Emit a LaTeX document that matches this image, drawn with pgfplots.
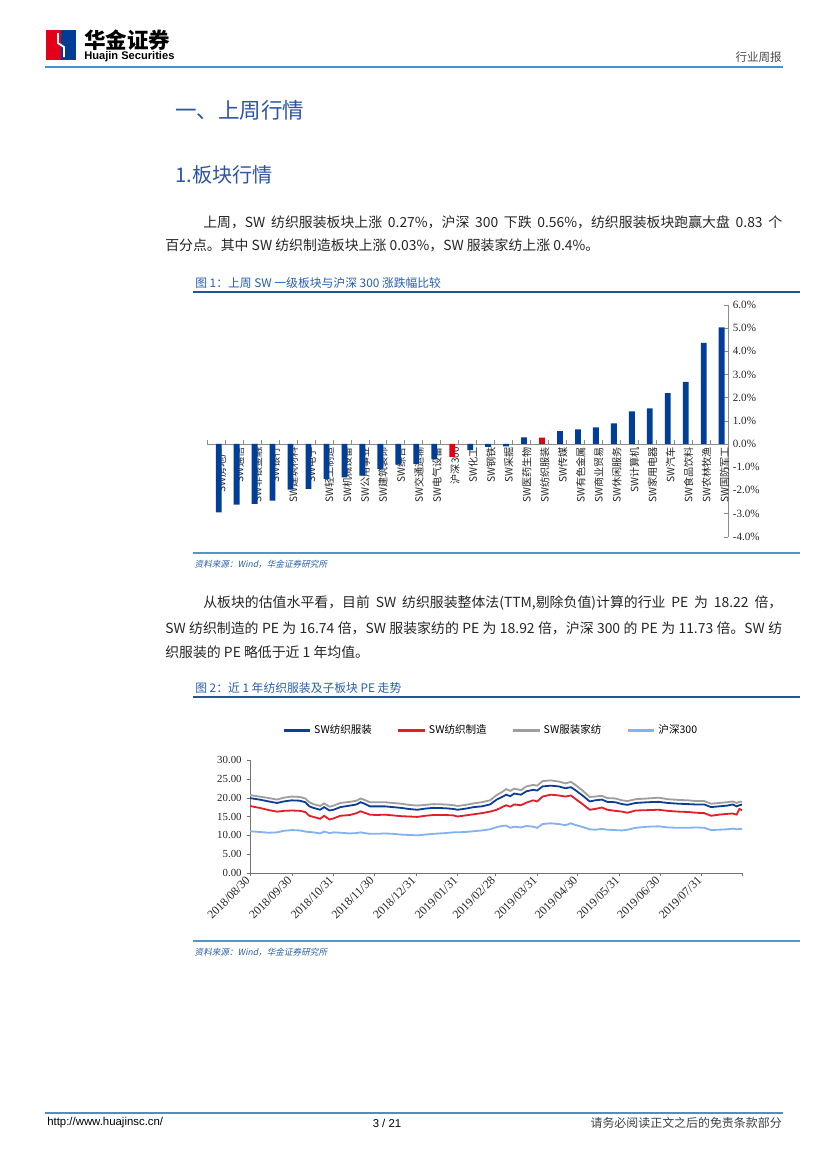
\documentclass[border=0pt]{standalone}
\usepackage{pgfplots}
\pgfplotsset{compat=1.18}
\usepackage{pgfplotstable}
\usepackage{fontspec}
\setmainfont{Noto Sans CJK SC}
\newfontfamily\serif{Liberation Serif}
\newfontfamily\arial{Liberation Sans}

\definecolor{logored}{RGB}{226,0,26}
\definecolor{logoblue}{RGB}{0,62,150}
\definecolor{hdrline}{RGB}{70,145,205}
\definecolor{headblue}{RGB}{45,85,165}
\definecolor{figblue}{RGB}{40,95,170}
\definecolor{figline}{RGB}{35,85,150}
\definecolor{srcline}{RGB}{80,150,200}
\definecolor{barblue}{RGB}{0,62,152}
\definecolor{barred}{RGB}{228,0,20}
\definecolor{lnblue}{RGB}{12,62,150}
\definecolor{lnred}{RGB}{228,30,40}
\definecolor{lngray}{RGB}{158,158,158}
\definecolor{lnlight}{RGB}{130,178,240}

\newcommand\fs[1]{\fontsize{#1}{#1}\selectfont}

% PE series, x = days since 2018/08/30
\pgfplotstableread{
d   fz   zz   jf   hs
0   19.9 17.8 20.7 11.1
7   19.5 17.3 20.3 10.9
14  19.0 16.7 19.9 10.7
20  18.6 16.3 19.5 10.8
25  19.0 16.5 20.0 11.2
31  19.3 16.6 20.3 11.4
37  19.2 16.5 20.2 11.3
41  18.8 16.2 19.8 11.0
44  17.7 15.2 18.8 10.9
47  17.3 14.9 18.3 10.8
52  16.8 14.4 17.8 10.5
55  17.5 15.2 18.5 11.0
59  16.6 14.2 17.6 10.6
62  16.8 14.5 17.9 10.8
67  17.5 15.2 18.6 10.7
74  17.9 15.4 18.9 10.5
79  18.2 15.9 19.2 10.6
82  18.8 16.4 19.8 10.8
85  18.4 16.0 19.4 10.6
89  17.7 15.5 18.8 10.4
94  17.7 15.4 18.8 10.4
100 17.7 15.5 18.8 10.5
106 17.5 15.3 18.6 10.4
112 17.3 15.1 18.4 10.2
118 17.0 15.0 18.1 10.1
124 16.8 14.9 17.9 10.0
130 17.1 15.2 18.1 10.2
136 17.3 15.4 18.3 10.4
145 17.2 15.4 18.2 10.6
151 17.0 15.3 18.0 10.8
154 16.8 15.0 17.8 10.8
160 17.1 15.3 18.1 10.9
166 17.5 15.6 18.5 11.1
172 17.7 15.9 18.8 11.3
178 18.2 16.3 19.3 11.6
183 19.5 16.8 20.7 12.2
187 20.2 17.5 21.5 12.5
190 20.8 18.0 22.3 12.6
193 20.4 17.6 21.8 12.0
196 21.1 18.2 22.4 12.3
201 20.8 18.0 22.0 12.1
205 21.7 18.7 23.0 12.5
210 22.1 19.3 23.4 12.3
213 21.9 19.0 23.2 12.0
217 23.0 20.3 24.4 13.0
223 23.2 20.8 24.6 13.2
229 23.0 20.6 24.3 13.0
234 22.5 20.3 23.8 12.7
238 22.8 20.6 24.2 13.2
241 22.1 19.8 23.5 12.8
247 20.5 18.2 21.8 12.2
252 19.0 16.8 20.2 11.6
256 19.3 17.0 20.3 11.5
261 19.5 17.4 20.5 11.7
265 18.9 16.8 19.9 11.5
271 18.8 16.5 19.8 11.4
276 18.3 16.3 19.3 11.3
280 18.1 16.0 19.1 11.5
286 18.6 16.6 19.6 12.0
295 18.8 16.7 19.8 12.3
303 18.9 16.8 20.0 12.4
310 18.6 16.5 19.6 12.1
318 18.4 16.3 19.4 12.0
325 18.3 16.2 19.3 12.0
331 18.2 16.0 19.1 12.1
337 18.2 15.9 19.1 12.0
342 17.5 15.2 18.4 11.4
348 17.7 15.5 18.6 11.5
354 17.9 15.7 18.8 11.6
358 18.2 15.8 19.0 11.8
361 17.7 15.5 18.6 11.6
363 18.0 17.0 18.9 11.7
365 18.2 16.7 18.9 11.7
}\pedata

\begin{document}
\XeTeXlinebreaklocale "zh"
\XeTeXlinebreakskip=0pt plus 3pt
\begin{tikzpicture}
\useasboundingbox (0pt,0pt) rectangle (595.30pt,-841.48pt);
\fill[white] (0pt,0pt) rectangle (595.30pt,-841.48pt);

\begin{scope}[x=0.71983pt,y=-0.71983pt,every node/.style={inner sep=0pt}]
% header
\fill[logored] (46,30) rectangle (61,60);
\fill[logoblue] (61,30) rectangle (76,60);
\draw[white,line width=1.3pt] (58,33) -- (58,43) -- (64,47) -- (64,57);
\node[anchor=west,font=\fs{15.5}\bfseries] at (84,40) {华金证券};
\node[anchor=west,font=\arial\bfseries\fs{8}] at (84,56.5) {Huajin Securities};
\node[anchor=east,font=\fs{8.3},text=black!70] at (782,57.5) {行业周报};
\draw[hdrline,line width=1.4pt] (45,67) -- (783,67);

% headings
\node[anchor=west,font=\fs{15.5},text=headblue] at (175,110) {一、上周行情};
\node[anchor=west,font=\fs{14.5},text=headblue] at (175,175) {1.板块行情};

% paragraph 1
\node[anchor=west,font=\fs{10},text=black!85] at (203,222)
  {\makebox[416.8pt][s]{上周，SW 纺织服装板块上涨 0.27\%，沪深 300 下跌 0.56\%，纺织服装板块跑赢大盘 0.83 个}};
\node[anchor=west,font=\fs{10},text=black!85] at (165,245)
  {百分点。其中 SW 纺织制造板块上涨 0.03\%，SW 服装家纺上涨 0.4\%。};

% figure 1 frame
\node[anchor=west,font=\fs{8.5},text=figblue] at (195,283) {图 1：上周 SW 一级板块与沪深 300 涨跌幅比较};
\draw[figline,line width=0.8pt] (193,292) -- (800,292);
\draw[srcline,line width=0.8pt] (193,553) -- (800,553);
\node[anchor=west,font=\fs{6.2},text=figblue,xslant=0.2] at (195,564) {资料来源：Wind，华金证券研究所};

% paragraph 2
\node[anchor=west,font=\fs{10},text=black!85] at (203,603)
  {\makebox[416.8pt][s]{从板块的估值水平看，目前 SW 纺织服装整体法(TTM,剔除负值)计算的行业 PE 为 18.22 倍，}};
\node[anchor=west,font=\fs{10},text=black!85] at (165,628)
  {\makebox[444.1pt][s]{SW 纺织制造的 PE 为 16.74 倍，SW 服装家纺的 PE 为 18.92 倍，沪深 300 的 PE 为 11.73 倍。SW 纺}};
\node[anchor=west,font=\fs{10},text=black!85] at (165,652)
  {织服装的 PE 略低于近 1 年均值。};

% figure 2 frame
\node[anchor=west,font=\fs{8.5},text=figblue] at (195,688) {图 2：近 1 年纺织服装及子板块 PE 走势};
\draw[figline,line width=0.8pt] (193,697) -- (800,697);
\draw[srcline,line width=0.8pt] (193,941) -- (800,941);
\node[anchor=west,font=\fs{6.2},text=figblue,xslant=0.2] at (195,952) {资料来源：Wind，华金证券研究所};

% footer
\draw[hdrline!80!gray,line width=0.9pt] (45,1113) -- (783,1113);
\node[anchor=west,font=\arial\fs{8.2}] at (47,1123) {http://www.huajinsc.cn/};
\node[font=\arial\fs{8.2}] at (387,1123) {3 / 21};
\node[anchor=east,font=\fs{8.6},text=black!75] at (782,1123) {请务必阅读正文之后的免责条款部分};
\end{scope}

% ---- figure 1: weekly change by sector ----
\begin{axis}[
  at={(149.0pt,-386.3pt)}, anchor=south west,
  scale only axis, width=375.0pt, height=166.8pt,
  xmin=-0.65, xmax=28.35, ymin=-4, ymax=6,
  axis x line*=middle, axis y line*=right,
  axis line style={-,draw=black!45,line width=0.5pt},
  ybar, bar width=4.2pt,
  xtick={0,...,28},
  xticklabels={SW房地产,SW通信,SW非银金融,SW银行,SW建筑材料,SW电子,SW轻工制造,SW机械设备,SW公用事业,SW建筑装饰,SW综合,SW交通运输,SW电气设备,沪深300,SW化工,SW钢铁,SW采掘,SW医药生物,SW纺织服装,SW传媒,SW有色金属,SW商业贸易,SW休闲服务,SW计算机,SW家用电器,SW汽车,SW食品饮料,SW农林牧渔,SW国防军工},
  xticklabel style={rotate=90,anchor=east,font=\fs{7.3},text=black!85,inner sep=1pt,yshift=-2pt,xshift=-1pt},
  major x tick style={draw=none},
  minor xtick={-0.65,0.35,...,28.35},
  minor x tick style={draw=black!45},
  minor tick length=3pt,
  ytick={-4,-3,...,6},
  yticklabel={\pgfmathprintnumber[fixed,fixed zerofill,precision=1]{\tick}\%},
  yticklabel style={font=\serif\fs{8},text=black!85},
  /pgf/number format/assume math mode=true,
  major tick length=3pt,
  tick align=inside,
  ytick style={draw=black!45},
]
\addplot[draw=none,fill=barblue,bar shift=0pt] coordinates {
  (0,-2.95) (1,-2.62) (2,-2.58) (3,-2.45) (4,-1.97) (5,-1.94) (6,-1.51)
  (7,-1.44) (8,-1.37) (9,-1.08) (10,-0.89) (11,-0.86) (12,-0.65)
  (14,-0.26) (15,-0.12) (16,-0.10) (17,0.28) (19,0.55) (20,0.63)
  (21,0.72) (22,0.89) (23,1.41) (24,1.54) (25,2.19) (26,2.68)
  (27,4.36) (28,5.03)};
\addplot[draw=none,fill=barred,bar shift=0pt] coordinates {(13,-0.56) (18,0.27)};
\end{axis}

% ---- figure 2: PE trend ----
\begin{axis}[
  at={(179.96pt,-628.4pt)}, anchor=south west,
  scale only axis, width=354.2pt, height=81.3pt,
  xmin=0, xmax=365, ymin=0, ymax=30,
  axis x line*=bottom, axis y line*=left,
  axis line style={-,draw=black!55,line width=0.5pt},
  xtick={0,31,62,92,123,154,182,213,243,274,304,335,365},
  xticklabels={2018/08/30,2018/09/30,2018/10/31,2018/11/30,2018/12/31,2019/01/31,2019/02/28,2019/03/31,2019/04/30,2019/05/31,2019/06/30,2019/07/31,},
  xticklabel style={rotate=45,anchor=east,font=\serif\fs{8.6},text=black!85,inner sep=2pt},
  ytick={0,5,...,30},
  yticklabel={\pgfmathprintnumber[fixed,fixed zerofill,precision=2]{\tick}},
  yticklabel style={font=\serif\fs{7.8},text=black!85},
  /pgf/number format/assume math mode=true,
  tick align=outside, major tick length=2.5pt,
  tick style={draw=black!55},
  legend columns=4,
  legend style={at={(0.49,1.265)},anchor=center,draw=none,fill=none,
    font=\fs{7.6},/tikz/every even column/.append style={column sep=16pt}},
  legend image code/.code={\draw[#1,line width=2pt] (0pt,0pt) -- (19pt,0pt);},
]
\addplot[lnblue,line width=1.3pt,mark=none] table[x=d,y=fz] {\pedata};
\addplot[lnred,line width=1.3pt,mark=none] table[x=d,y=zz] {\pedata};
\addplot[lngray,line width=1.3pt,mark=none] table[x=d,y=jf] {\pedata};
\addplot[lnlight,line width=1.3pt,mark=none] table[x=d,y=hs] {\pedata};
\legend{SW纺织服装,SW纺织制造,SW服装家纺,沪深300}
\end{axis}
\end{tikzpicture}
\end{document}
